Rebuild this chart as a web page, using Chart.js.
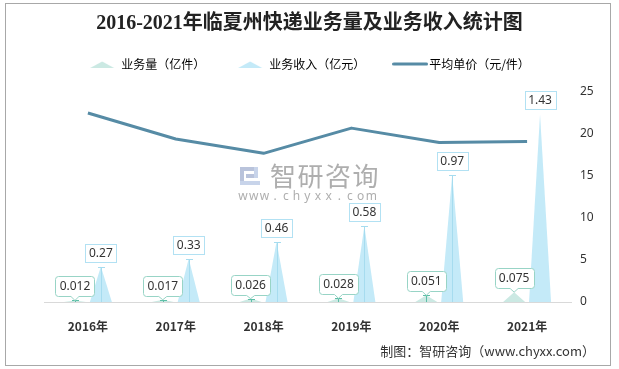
<!DOCTYPE html>
<html>
<head>
<meta charset="utf-8">
<script src="https://cdn.jsdelivr.net/npm/chart.js@4.4.1/dist/chart.umd.min.js"></script>
<style>
html,body{margin:0;padding:0;background:#fff;}
#wrap{width:619px;height:369px;position:relative;}
</style>
</head>
<body>
<div id="wrap"><canvas id="c" width="619" height="369"></canvas></div>
<script>
// ---- data ----
const categories = ['2016年', '2017年', '2018年', '2019年', '2020年', '2021年'];
const volume = [0.012, 0.017, 0.026, 0.028, 0.051, 0.075];   // 业务量（亿件）
const revenue = [0.27, 0.33, 0.46, 0.58, 0.97, 1.43];        // 业务收入（亿元）
const unitPrice = [22.5, 19.4, 17.7, 20.7, 19.0, 19.1];      // 平均单价（元/件）
const rightTicks = [0, 5, 10, 15, 20, 25];
const seriesNames = ['业务量（亿件）', '业务收入（亿元）', '平均单价（元/件）'];
const titleText = '2016-2021年临夏州快递业务量及业务收入统计图';
const sourceText = '制图：智研咨询（www.chyxx.com）';
const watermarkText = '智研咨询';
const watermarkUrl = 'www.chyxx.com';

// ---- styles ----
const VOL_FILL = '#cbe9e3';
const REV_FILL = '#c4eaf8';
const LINE_COLOR = '#568ba5';
const CJK = '"Noto Sans CJK SC", "Noto Sans", sans-serif';
Chart.defaults.font.family = CJK;

function triIcon(color) {
  const c = document.createElement('canvas');
  c.width = 26; c.height = 8;
  const g = c.getContext('2d');
  g.fillStyle = color;
  g.beginPath(); g.moveTo(1, 8); g.lineTo(13, 1.5); g.lineTo(25, 8); g.closePath(); g.fill();
  return c;
}
function lineIcon(color) {
  const c = document.createElement('canvas');
  c.width = 36; c.height = 4;
  const g = c.getContext('2d');
  g.strokeStyle = color; g.lineWidth = 3; g.lineCap = 'round';
  g.beginPath(); g.moveTo(1.5, 2); g.lineTo(34.5, 2); g.stroke();
  return c;
}
const icons = [triIcon(VOL_FILL), triIcon(REV_FILL), lineIcon(LINE_COLOR)];

const legendShift = {
  id: 'legendShift',
  afterLayout(chart) {
    chart.legend.top -= 12;
    chart.legend.bottom -= 12;
  }
};

const spikes = {
  id: 'spikes',
  beforeDatasetsDraw(chart) {
    const ctx = chart.ctx;
    ctx.save();
    // watermark
    ctx.fillStyle = '#b9c3db';
    ctx.fillRect(240, 167, 18, 4);
    ctx.fillRect(240, 167, 4, 18);
    ctx.fillRect(246, 174, 12, 4);
    ctx.fillStyle = '#c8d4ea';
    ctx.fillRect(254, 167, 4, 11);
    ctx.fillRect(240, 181, 20, 4);
    ctx.fillStyle = 'rgba(160,160,160,0.85)';
    ctx.font = '26px ' + CJK;
    ctx.textAlign = 'center'; ctx.textBaseline = 'middle';
    [...watermarkText].forEach((ch, i) => ctx.fillText(ch, 283 + i * 27.5, 176));
    ctx.font = '12px "Noto Sans", sans-serif';
    ctx.fillStyle = 'rgba(165,165,165,0.9)';
    [...watermarkUrl].forEach((ch, i) => ctx.fillText(ch, 243 + i * 10.7, 197));
    // triangles
    const fills = [VOL_FILL, REV_FILL];
    [0, 1].forEach(di => {
      chart.getDatasetMeta(di).data.forEach(bar => {
        const p = bar.getProps(['x', 'y', 'base', 'width'], true);
        ctx.fillStyle = fills[di];
        ctx.beginPath();
        ctx.moveTo(p.x - p.width / 2, p.base);
        ctx.lineTo(p.x, p.y);
        ctx.lineTo(p.x + p.width / 2, p.base);
        ctx.closePath();
        ctx.fill();
      });
    });
    ctx.restore();
  },
  afterDatasetsDraw(chart) {
    const ctx = chart.ctx;
    ctx.save();
    ctx.font = '12px "Noto Sans", sans-serif';
    ctx.textAlign = 'center'; ctx.textBaseline = 'middle';
    ctx.lineWidth = 1;
    const last = categories.length - 1;
    // revenue markers + boxes
    chart.getDatasetMeta(1).data.forEach((bar, i) => {
      const p = bar.getProps(['x', 'y', 'base'], true);
      const xr = Math.round(p.x) + 0.5, yr = Math.round(p.y) + 0.5;
      if (i !== last) {
        ctx.strokeStyle = '#a6dcef';
        ctx.beginPath();
        ctx.moveTo(xr, yr); ctx.lineTo(xr, p.base);
        ctx.moveTo(xr - 3.5, yr); ctx.lineTo(xr + 3.5, yr);
        ctx.stroke();
      }
      const txt = String(chart.data.datasets[1].data[i]);
      const w = Math.round(ctx.measureText(txt).width + 7), h = 18;
      const bx = Math.round(p.x - w / 2) + 0.5, by = Math.round(p.y - 5 - h) + 0.5;
      ctx.fillStyle = '#fff';
      ctx.fillRect(bx, by, w, h);
      ctx.strokeStyle = '#b2e1f3';
      ctx.strokeRect(bx, by, w, h);
      ctx.fillStyle = '#333';
      ctx.fillText(txt, p.x, by + h / 2 + 0.5);
    });
    // volume markers + callouts
    chart.getDatasetMeta(0).data.forEach((bar, i) => {
      const p = bar.getProps(['x', 'y', 'base'], true);
      const xr = Math.round(p.x) + 0.5, yr = Math.round(p.y) + 0.5;
      if (i !== last) {
        ctx.strokeStyle = '#5dbfa7';
        ctx.beginPath();
        ctx.moveTo(xr, yr); ctx.lineTo(xr, p.base);
        ctx.moveTo(xr - 3.5, yr); ctx.lineTo(xr + 3.5, yr);
        ctx.stroke();
      }
      const txt = String(chart.data.datasets[0].data[i]);
      const w = Math.round(ctx.measureText(txt).width + 8), h = 20, r = 3;
      const bottom = Math.round(p.y - 4) + 0.5, top = bottom - h;
      const left = Math.round(p.x - w / 2) + 0.5, right = left + w;
      ctx.beginPath();
      ctx.moveTo(left + r, top);
      ctx.lineTo(right - r, top);
      ctx.arcTo(right, top, right, top + r, r);
      ctx.lineTo(right, bottom - r);
      ctx.arcTo(right, bottom, right - r, bottom, r);
      ctx.lineTo(p.x + 4, bottom);
      ctx.lineTo(p.x, p.y);
      ctx.lineTo(p.x - 4, bottom);
      ctx.lineTo(left + r, bottom);
      ctx.arcTo(left, bottom, left, bottom - r, r);
      ctx.lineTo(left, top + r);
      ctx.arcTo(left, top, left + r, top, r);
      ctx.closePath();
      ctx.fillStyle = '#fff';
      ctx.fill();
      ctx.strokeStyle = '#98d4c6';
      ctx.stroke();
      ctx.fillStyle = '#333';
      ctx.fillText(txt, p.x, top + h / 2 + 0.5);
    });
    ctx.restore();
  },
  afterDraw(chart) {
    const ctx = chart.ctx;
    ctx.save();
    ctx.font = '13px ' + CJK;
    ctx.fillStyle = '#333';
    ctx.textAlign = 'right'; ctx.textBaseline = 'middle';
    ctx.fillText(sourceText, 595, 351);
    ctx.strokeStyle = '#a8a8a8';
    ctx.lineWidth = 1;
    ctx.strokeRect(5.5, 3.5, 605, 362);
    ctx.restore();
  }
};

new Chart(document.getElementById('c'), {
  type: 'bar',
  data: {
    labels: categories,
    datasets: [
      { label: seriesNames[0], data: volume, yAxisID: 'y', backgroundColor: 'rgba(0,0,0,0)', borderWidth: 0,
        categoryPercentage: 0.59, barPercentage: 0.85, order: 2 },
      { label: seriesNames[1], data: revenue, yAxisID: 'y', backgroundColor: 'rgba(0,0,0,0)', borderWidth: 0,
        categoryPercentage: 0.59, barPercentage: 0.85, order: 2 },
      { type: 'line', label: seriesNames[2], data: unitPrice, yAxisID: 'y1', borderColor: LINE_COLOR,
        borderWidth: 3, pointRadius: 0, tension: 0, fill: false, order: 0, borderJoinStyle: 'round' }
    ]
  },
  options: {
    responsive: false,
    devicePixelRatio: 1,
    animation: false,
    events: [],
    layout: { padding: 0 },
    plugins: {
      title: {
        display: true, text: titleText, color: '#222',
        font: { size: 20, weight: 'bold', family: '"Liberation Serif", "Noto Sans CJK SC", serif' },
        padding: { top: 12, bottom: 2 }
      },
      legend: {
        display: true, position: 'top',
        labels: {
          usePointStyle: true, pointStyleWidth: 26, padding: 32,
          font: { size: 12 }, color: '#333',
          generateLabels: () => seriesNames.map((t, i) => ({
            text: t, pointStyle: icons[i], fillStyle: 'rgba(0,0,0,0)', strokeStyle: 'rgba(0,0,0,0)',
            lineWidth: 0, hidden: false, datasetIndex: i
          }))
        }
      },
      tooltip: { enabled: false }
    },
    scales: {
      x: {
        grid: { display: false, drawTicks: false },
        border: { display: true, color: '#d9d9d9', width: 1 },
        ticks: { color: '#333', font: { size: 12, weight: 'bold' }, padding: 17 },
        afterFit: s => { s.height = 67; }
      },
      y: {
        position: 'left', min: 0, max: 1.6,
        grid: { display: false, drawTicks: false },
        border: { display: false },
        ticks: { display: false },
        afterFit: s => { s.width = 44; }
      },
      y1: {
        position: 'right', min: 0, max: 25,
        grid: { display: false, drawTicks: false },
        border: { display: false },
        ticks: { color: '#333', font: { size: 12, family: '"Noto Sans", sans-serif' }, padding: 9 },
        afterBuildTicks: s => { s.ticks = rightTicks.map(v => ({ value: v })); },
        afterFit: s => { s.width = 48; }
      }
    }
  },
  plugins: [legendShift, spikes]
});
</script>
</body>
</html>
